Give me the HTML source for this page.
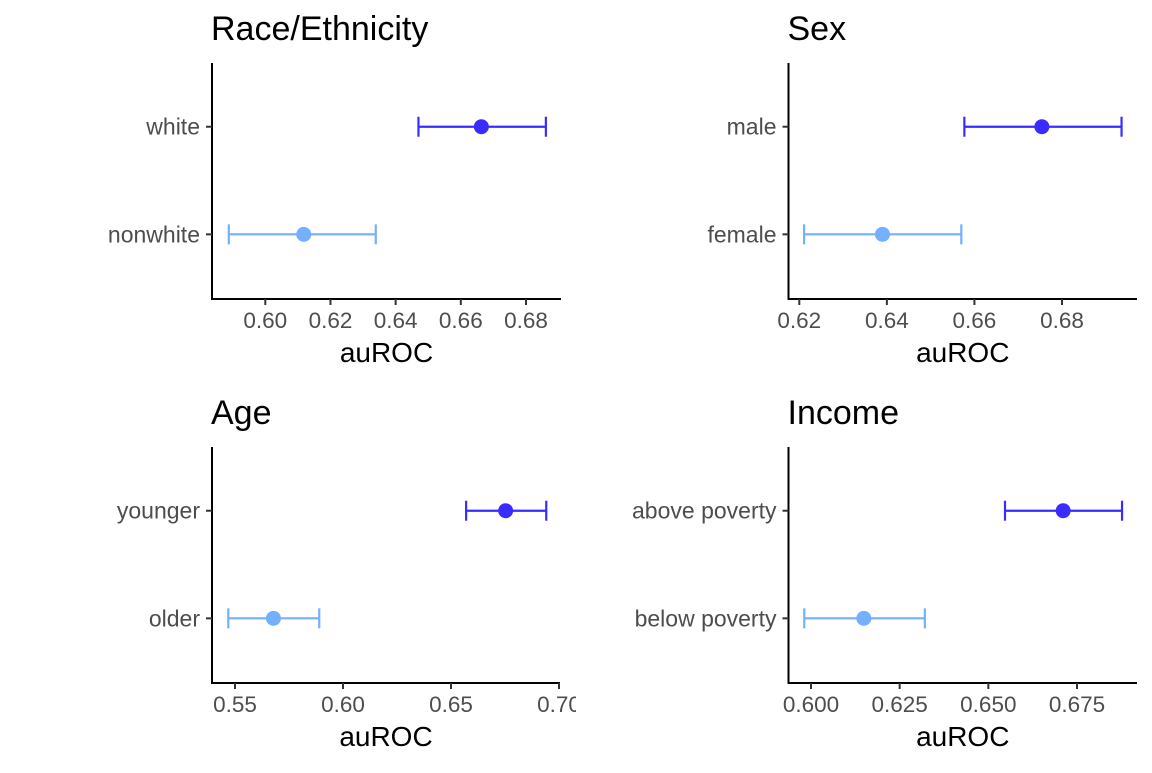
<!DOCTYPE html>
<html><head><meta charset="utf-8"><style>
body{margin:0;background:#fff;}
svg text{font-family:"Liberation Sans",Arial,sans-serif;}
</style></head><body>
<svg id="chart" width="1152" height="768" xmlns="http://www.w3.org/2000/svg"></svg>
<script>
const panelTitles=["Race/Ethnicity","Sex","Age","Income"];
const categoriesA=["white","nonwhite"];
const categoriesB=["male","female"];
const categoriesC=["younger","older"];
const categoriesD=["above poverty","below poverty"];
const pointA=[0.6663,0.6118], lowA=[0.6470,0.5888], highA=[0.6861,0.6339];
const pointB=[0.6754,0.6390], lowB=[0.6577,0.6211], highB=[0.6936,0.6570];
const pointC=[0.6753,0.5678], lowC=[0.6570,0.5469], highC=[0.6941,0.5890];
const pointD=[0.6711,0.6149], lowD=[0.6547,0.5981], highD=[0.6877,0.6321];
const ticksA=[0.60,0.62,0.64,0.66,0.68], tickLabA=["0.60","0.62","0.64","0.66","0.68"];
const ticksB=[0.62,0.64,0.66,0.68], tickLabB=["0.62","0.64","0.66","0.68"];
const ticksC=[0.55,0.60,0.65,0.70], tickLabC=["0.55","0.60","0.65","0.70"];
const ticksD=[0.600,0.625,0.650,0.675], tickLabD=["0.600","0.625","0.650","0.675"];
const colors=["#3a2cff","#74b0ff"];
const svg=document.getElementById('chart');
const NS="http://www.w3.org/2000/svg";
function mk(tag,attrs,parent){const e=document.createElementNS(NS,tag);for(const k in attrs)e.setAttribute(k,attrs[k]);parent.appendChild(e);return e;}
const panels=[
 {ox:0,oy:0,ax:212,top:63,bot:299,right:561,cats:categoriesA,p:pointA,lo:lowA,hi:highA,ticks:ticksA,lab:tickLabA,v0:0.60,x0:265.3,v1:0.68,x1:526},
 {ox:576,oy:0,ax:788.5,top:63,bot:299,right:1137,cats:categoriesB,p:pointB,lo:lowB,hi:highB,ticks:ticksB,lab:tickLabB,v0:0.62,x0:799.3,v1:0.68,x1:1062},
 {ox:0,oy:384,ax:212,top:447,bot:683,right:560,cats:categoriesC,p:pointC,lo:lowC,hi:highC,ticks:ticksC,lab:tickLabC,v0:0.55,x0:235,v1:0.70,x1:559},
 {ox:576,oy:384,ax:788.5,top:447,bot:683,right:1137,cats:categoriesD,p:pointD,lo:lowD,hi:highD,ticks:ticksD,lab:tickLabD,v0:0.600,x0:811,v1:0.675,x1:1077}
];
const defs=mk('defs',{},svg);
panels.forEach((P,i)=>{
 const cp=mk('clipPath',{id:'cp'+i},defs);
 mk('rect',{x:P.ox,y:P.oy,width:576,height:384},cp);
 const g=mk('g',{'clip-path':'url(#cp'+i+')'},svg);
 
 
 const xs=v=>P.x0+(v-P.v0)*(P.x1-P.x0)/(P.v1-P.v0);
 const span=P.bot-P.top;
 const ys=k=>P.top+span*(k===0?0.27:0.726);
 const t=mk('text',{x:P.ax-1,y:P.oy+40,'font-size':34,fill:'#000'},g);t.textContent=panelTitles[i];
 
 
 const ya=mk('line',{x1:P.ax,x2:P.ax,y1:P.top,y2:P.bot+1,stroke:'#000','stroke-width':2},g);
 
 
 const xa=mk('line',{x1:P.ax-1,x2:P.right,y1:P.bot,y2:P.bot,stroke:'#000','stroke-width':2},g);
 
 
 P.ticks.forEach((v,j)=>{
  const x=xs(v);
  mk('line',{x1:x,x2:x,y1:P.bot,y2:P.bot+6,stroke:'#333','stroke-width':2},g);
  const tl=mk('text',{x:x,y:P.bot+29,'font-size':22.5,fill:'#4d4d4d','text-anchor':'middle'},g);tl.textContent=P.lab[j];
  
  
 });
 const at=mk('text',{x:(P.ax+P.right)/2,y:P.bot+63,'font-size':28,fill:'#000','text-anchor':'middle'},g);at.textContent='auROC';
 
 
 P.cats.forEach((c,k)=>{
  const y=ys(k);
  mk('line',{x1:P.ax-6,x2:P.ax,y1:y,y2:y,stroke:'#333','stroke-width':2},g);
  const yl=mk('text',{x:P.ax-12,y:y+8,'font-size':23,fill:'#4d4d4d','text-anchor':'end'},g);yl.textContent=c;
  
  
  const col=colors[k];
  const eb=mk('g',{stroke:col,'stroke-width':2.2},g);
  
  
  const a=xs(P.lo[k]),b=xs(P.hi[k]);
  mk('line',{x1:a,x2:b,y1:y,y2:y},eb);
  mk('line',{x1:a,x2:a,y1:y-10,y2:y+10},eb);
  mk('line',{x1:b,x2:b,y1:y-10,y2:y+10},eb);
  const pt=mk('circle',{cx:xs(P.p[k]),cy:y,r:7.5,fill:col},g);
  
  
 });
});
</script>
</body></html>
